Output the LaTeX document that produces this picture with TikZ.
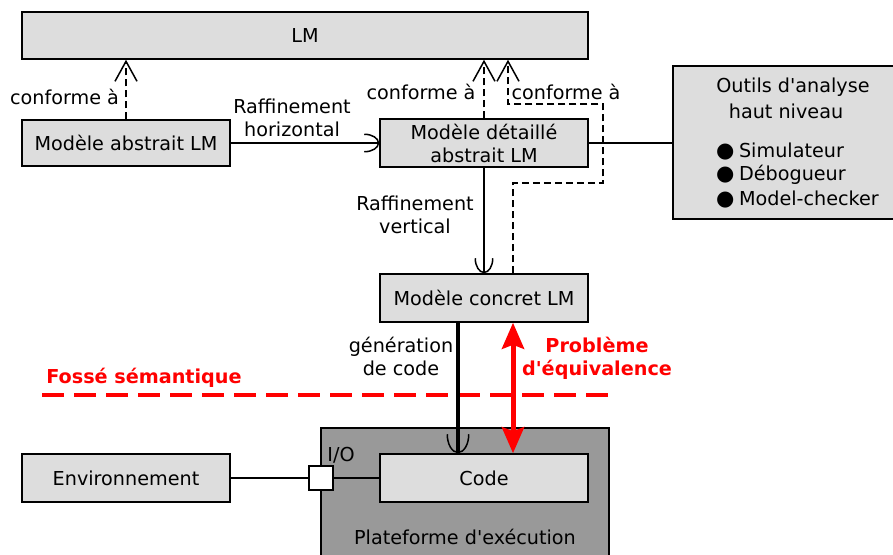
\documentclass[tikz,border=0pt]{standalone}
\usepackage{fontspec}
\setmainfont{DejaVu Sans}[Ligatures=TeXOff]
\usetikzlibrary{arrows.meta}
\definecolor{boxgray}{HTML}{DDDDDD}
\definecolor{platgray}{HTML}{999999}
\newcommand{\bulletmark}{{\fontsize{21}{23}\selectfont ●}\kern4.5pt}
\begin{document}
\begin{tikzpicture}[x=1pt,y=-1pt,
  font=\fontsize{19.2}{23}\selectfont,
  box/.style={draw, fill=boxgray, line width=1.5pt, inner sep=0pt, align=center, minimum width=208pt, minimum height=47pt},
  lbl/.style={inner sep=0pt, align=center},
  redlbl/.style={inner sep=0pt, align=center, text=red, font=\fontsize{19.2}{23}\selectfont\bfseries},
  conf/.style={line width=1.5pt, dash pattern=on 7pt off 4pt, -{Straight Barb[length=20pt,width=22pt]}},
  refine/.style={line width=1.5pt, -{Arc Barb[length=15pt,width=19pt]}},
  plain/.style={line width=1.5pt}
]
\useasboundingbox (0,0) rectangle (893,554);

% red semantic gap line
\coordinate (f1) at (42,395);
\coordinate (f2) at (609,395);
\draw[red, line width=4.5pt, dash pattern=on 22pt off 10pt] (f1) -- (f2);

% boxes
\node[box, minimum width=566pt] (LM) at (305,35.5) {LM};
\node[box, minimum height=46pt] (abs) at (126,143) {Modèle abstrait LM};
\node[box, minimum height=48pt] (det) at (484,143) {Modèle détaillé\\abstrait LM};
\node[box, minimum height=48pt] (conc) at (484,298) {Modèle concret LM};
\node[draw, fill=platgray, line width=1.5pt, minimum width=288pt, minimum height=140pt, inner sep=0pt] (plat) at (465,498) {};
\node[lbl] (platl) at (465,537) {Plateforme d'exécution};
\node[box, minimum height=48pt] (code) at (484,478) {Code};
\node[box, minimum height=48pt] (env) at (126,478) {Environnement};
\node[draw, fill=white, line width=1.5pt, minimum size=24pt, inner sep=0pt] (io) at (321,478) {};
\node[lbl] (iol) at (341,455) {I/O};
\node[draw, fill=boxgray, line width=1.5pt, minimum width=225pt, minimum height=153pt, inner sep=0pt] (out) at (785.5,142.5) {};
\node[lbl] (o1) at (793,87) {Outils d'analyse};
\node[lbl] (o2) at (786,111) {haut niveau};
\node[lbl, anchor=west] (o3) at (716,151) {\bulletmark Simulateur};
\node[lbl, anchor=west] (o4) at (716,175) {\bulletmark Débogueur};
\node[lbl, anchor=west] (o5) at (716,199) {\bulletmark Model-checker};

% conforme arrows
\draw[conf] (abs.north) -- (abs.north |- LM.south);
\draw[conf] (det.north) -- (det.north |- LM.south);
\coordinate (k0) at ([xshift=29pt]conc.north);
\coordinate (k1) at (603,183);
\coordinate (k2) at (508,104);
\draw[conf] (k0) |- (k1) |- (k2) -- (k2 |- LM.south);

% refinements
\draw[refine] (abs.east) -- (det.west);
\draw[refine] (det.south) -- (conc.north);
\draw[plain] (det.east) -- (det.east -| out.west);

% code generation
\draw[line width=4pt, -{Arc Barb[length=19pt,width=23pt,line width=1.5pt]}] ([xshift=-26pt]conc.south) -- ([xshift=-26pt]code.north);
\draw[red, line width=5pt, {Stealth[length=26pt,width=22pt,inset=4pt]}-{Stealth[length=26pt,width=22pt,inset=4pt]}] ([xshift=29pt]conc.south) -- ([xshift=29pt]code.north);

% environment links
\draw[plain] (env.east) -- (io.west);
\draw[plain] (io.east) -- (code.west);

% labels
\node[lbl] (l1) at (64.5,97) {conforme à};
\node[lbl] (l2) at (421,92) {conforme à};
\node[lbl] (l3) at (566,92) {conforme à};
\node[lbl] (l4) at (292,118) {Raffinement\\horizontal};
\node[lbl] (l5) at (415,215) {Raffinement\\vertical};
\node[lbl] (l6) at (401,356) {génération\\de code};
\node[redlbl] (l7) at (597,358) {Problème\\d'équivalence};
\node[redlbl] (l8) at (144,378) {Fossé sémantique};
\end{tikzpicture}
\end{document}
